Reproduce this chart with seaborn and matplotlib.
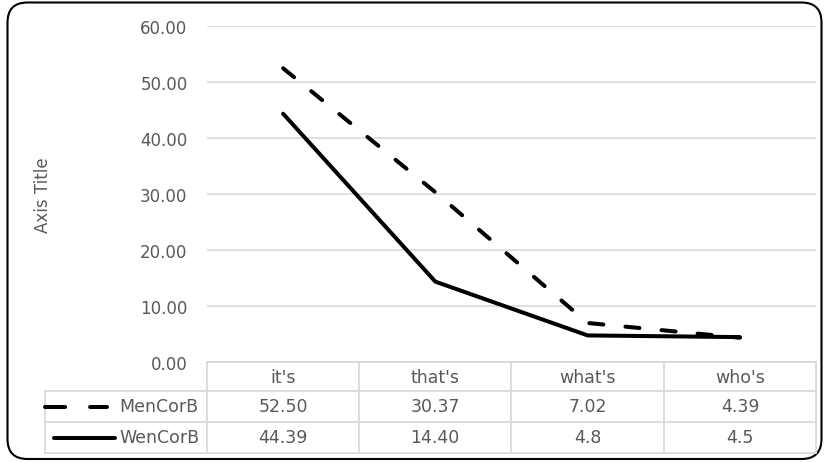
import matplotlib
matplotlib.use("Agg")
import matplotlib.pyplot as plt
import seaborn as sns
import pandas as pd
from matplotlib.patches import FancyBboxPatch
from matplotlib.lines import Line2D
from matplotlib.transforms import IdentityTransform
from matplotlib.ticker import FormatStrFormatter

categories = ["it's", "that's", "what's", "who's"]
series_names = ["MenCorB", "WenCorB"]
men_values = [52.50, 30.37, 7.02, 4.39]
women_values = [44.39, 14.40, 4.8, 4.5]
men_labels = ["52.50", "30.37", "7.02", "4.39"]
women_labels = ["44.39", "14.40", "4.8", "4.5"]
y_ticks = [0, 10, 20, 30, 40, 50, 60]

sns.set_theme(style="white")
plt.rcParams['font.family'] = ['DejaVu Sans']

W, H = 829, 464
fig = plt.figure(figsize=(W / 100, H / 100), dpi=100)

def fx(px):
    return px / W

def fy(py):
    return 1 - py / H

ax_left, ax_right, ax_top, ax_bot = 207, 816, 27.3, 363.3
ax = fig.add_axes([fx(ax_left), fy(ax_bot), fx(ax_right - ax_left), (ax_bot - ax_top) / H])

df = pd.DataFrame({
    "category": categories * 2,
    "value": men_values + women_values,
    "series": [series_names[0]] * 4 + [series_names[1]] * 4,
})

sns.lineplot(data=df, x="category", y="value", style="series", sort=False,
             dashes={series_names[0]: (3.5, 5.5), series_names[1]: ""},
             color="black", lw=2.9, legend=False, ax=ax)
for ln in ax.lines:
    ln.set_dash_capstyle("round")
    ln.set_solid_capstyle("round")
    ln.set_solid_joinstyle("round")
    ln.set_dash_joinstyle("round")

txt_color = "#595959"
grid_color = "#d9d9d9"

ax.set_xlim(-0.5, len(categories) - 0.5)
ax.set_ylim(0, 60)
ax.set_yticks(y_ticks)
ax.yaxis.set_major_formatter(FormatStrFormatter("%.2f"))
ax.tick_params(axis="y", length=0, pad=14, labelsize=12, labelcolor=txt_color)
ax.set_xticks([])
ax.set_xlabel("")
ax.set_ylabel("")
ax.grid(axis="y", color=grid_color, lw=1.2)
ax.set_axisbelow(True)
for s in ax.spines.values():
    s.set_visible(False)
ax.patch.set_alpha(0)

fig.text(fx(43), fy(195), "Axis Title", rotation=90, ha="center", va="center",
         fontsize=12, color=txt_color)

# data table
col_x = [45, 207, 359, 511.5, 664, 816]
row_y = [363.3, 392, 423, 454]
lw_t = 1.3

def hline(y, x0, x1):
    fig.add_artist(Line2D([fx(x0), fx(x1)], [fy(y), fy(y)], color=grid_color, lw=lw_t,
                          transform=fig.transFigure))

def vline(x, y0, y1):
    fig.add_artist(Line2D([fx(x), fx(x)], [fy(y0), fy(y1)], color=grid_color, lw=lw_t,
                          transform=fig.transFigure))

hline(row_y[0], col_x[1], col_x[-1])
for y in row_y[1:]:
    hline(y, col_x[0], col_x[-1])
vline(col_x[0], row_y[1], row_y[-1])
for x in col_x[1:]:
    vline(x, row_y[0], row_y[-1])

tfs = 12.5
for i, cat in enumerate(categories):
    cx = (col_x[i + 1] + col_x[i + 2]) / 2
    fig.text(fx(cx), fy((row_y[0] + row_y[1]) / 2), cat, ha="center", va="center",
             fontsize=tfs, color=txt_color)
    fig.text(fx(cx), fy((row_y[1] + row_y[2]) / 2), men_labels[i], ha="center", va="center",
             fontsize=tfs, color=txt_color)
    fig.text(fx(cx), fy((row_y[2] + row_y[3]) / 2), women_labels[i], ha="center", va="center",
             fontsize=tfs, color=txt_color)

# legend keys
y1 = (row_y[1] + row_y[2]) / 2
y2 = (row_y[2] + row_y[3]) / 2
k1 = Line2D([fx(45), fx(107)], [fy(y1), fy(y1)], color="black", lw=2.9,
            dashes=(5.0, 6.2), dash_capstyle="round", transform=fig.transFigure)
k2 = Line2D([fx(54), fx(115)], [fy(y2), fy(y2)], color="black", lw=2.9,
            solid_capstyle="round", transform=fig.transFigure)
fig.add_artist(k1)
fig.add_artist(k2)
fig.text(fx(119), fy(y1), series_names[0], ha="left", va="center", fontsize=tfs, color=txt_color)
fig.text(fx(119), fy(y2), series_names[1], ha="left", va="center", fontsize=tfs, color=txt_color)

# outer rounded border
border = FancyBboxPatch((7.5, 4), 814, 456.5, boxstyle="round,pad=0,rounding_size=20",
                        transform=IdentityTransform(), fill=False, ec="black", lw=1.5)
fig.add_artist(border)

fig.savefig("out.png", dpi=100)
